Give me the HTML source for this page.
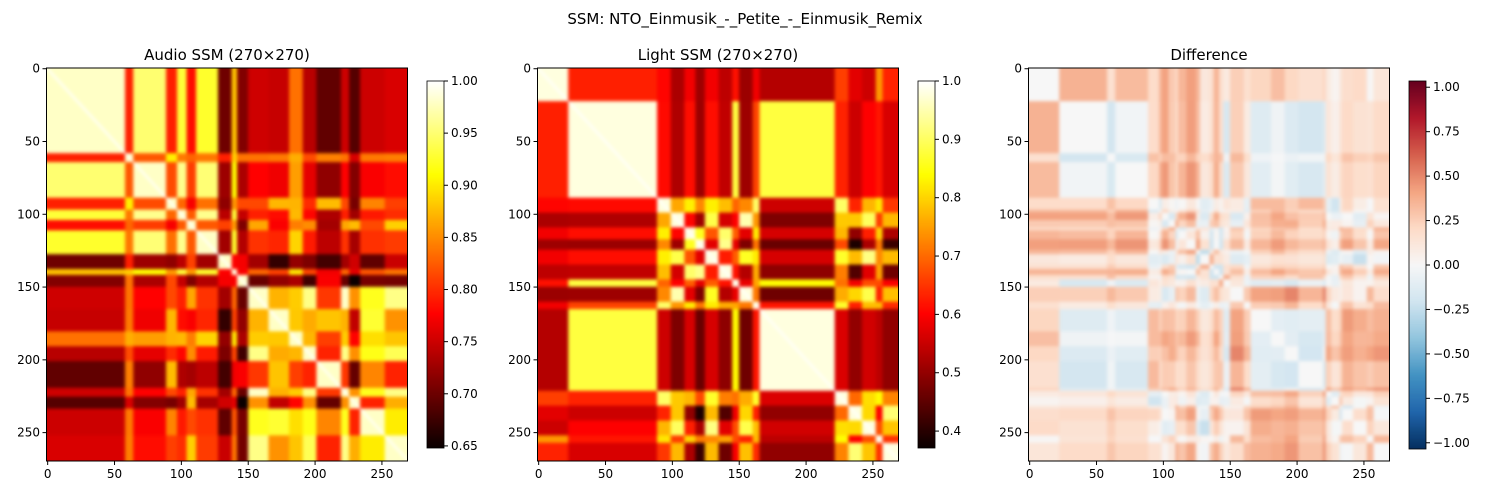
<!DOCTYPE html>
<html><head><meta charset="utf-8">
<style>
body{margin:0;background:#fff;width:1489px;height:495px;overflow:hidden;position:relative;font-family:"DejaVu Sans","Liberation Sans",sans-serif;}
canvas{position:absolute;filter:blur(1.6px);}
svg{position:absolute;left:0;top:0;}
</style></head><body>
<div style="position:absolute;left:47px;top:68px;width:361px;height:393px;overflow:hidden"><canvas id="c1" width="270" height="270" style="left:-4px;top:-4px;width:369px;height:401px"></canvas></div>
<div style="position:absolute;left:538px;top:68px;width:361px;height:393px;overflow:hidden"><canvas id="c2" width="270" height="270" style="left:-4px;top:-4px;width:369px;height:401px"></canvas></div>
<div style="position:absolute;left:1029px;top:68px;width:361px;height:393px;overflow:hidden"><canvas id="c3" width="270" height="270" style="left:-4px;top:-4px;width:369px;height:401px"></canvas></div>
<canvas id="cb1" width="1" height="256" style="left:427px;top:81px;width:17px;height:367px;filter:none"></canvas>
<canvas id="cb2" width="1" height="256" style="left:918px;top:81px;width:17px;height:367px;filter:none"></canvas>
<canvas id="cb3" width="1" height="256" style="left:1409px;top:81px;width:17px;height:368px;filter:none"></canvas>
<svg id="s" width="1489" height="495">
<text x="745" y="24" text-anchor="middle" font-size="15">SSM: NTO_Einmusik_-_Petite_-_Einmusik_Remix</text>
<text x="227" y="60" text-anchor="middle" font-size="15">Audio SSM (270×270)</text>
<text x="718" y="60" text-anchor="middle" font-size="15">Light SSM (270×270)</text>
<text x="1209" y="60" text-anchor="middle" font-size="15">Difference</text>
</svg>
<script>
// Audio segments: start frame and 3-D feature
const audioStarts=[0,60,66,90,98,105,112,128,138,142,150,165,180,190,200,218,224,232,250];
const audioFx=[0,0.18,0.03,0.15,0.05,0.17,0.05,0.23,0.1,0.2,0.2,0.18,0.12,0.2,0.24,0.2,0.24,0.19,0.2];
const audioFy=[0,0,0,0.05,0,0,0.02,-0.15,0,-0.1,0.1,0.14,0.08,0.12,0.1,0.1,0.05,0.13,0.08];
const audioFz=[0,-0.05,0,-0.1,0,0.1,0,0.05,0,-0.15,0.05,-0.05,0,0.06,-0.12,0.05,0.16,0,0.06];
// Light segments
const lightStarts=[0,25,90,100,110,118,125,135,145,150,160,165,220,230,240,250,255];
const lightFx=[0,0,0.33,0.36,0.3,0.36,0.3,0.35,0.1,0.36,0.3,0,0.28,0.2,0.3,0.22,0.18];
const lightFy=[0.35,0,0.17,0.17,0.15,0.18,0.15,0.17,0,0.17,0.1,-0.1,0.2,0.2,0.12,0.28,0.25];
const lightFz=[0,0,0,0.22,-0.15,-0.25,0.15,-0.2,0,0.25,0,0,0.05,0.32,0.2,-0.05,0.28];
const audioTicks=[1.00,0.95,0.90,0.85,0.80,0.75,0.70,0.65];
const lightTicks=[1.0,0.9,0.8,0.7,0.6,0.5,0.4];
const diffTicks=[1.00,0.75,0.50,0.25,0.00,-0.25,-0.50,-0.75,-1.00];
const axisTicks=[0,50,100,150,200,250];
const N=270;
function hot(t){t=Math.max(0,Math.min(1,t));
 return [Math.min(1,0.0416+t/0.365*0.9584),Math.max(0,Math.min(1,(t-0.365)/0.381)),Math.max(0,Math.min(1,(t-0.746)/0.254))].map(v=>v*255);}
const rdbu=[[5,48,97],[33,102,172],[67,147,195],[146,197,222],[209,229,240],[247,247,247],[253,219,199],[244,165,130],[214,96,77],[178,24,43],[103,0,31]];
function rb(t){t=Math.max(0,Math.min(1,t))*10;const i=Math.min(9,Math.floor(t)),f=t-i;
 return rdbu[i].map((v,k)=>v+(rdbu[i+1][k]-v)*f);}
function feat(st,fx,fy,fz){const X=[],Y=[],Z=[];let s=0;
 for(let i=0;i<N;i++){while(s+1<st.length&&i>=st[s+1])s++;X.push(fx[s]);Y.push(fy[s]);Z.push(fz[s]);}return [X,Y,Z];}
function sim(F,i,j){const d=Math.hypot(F[0][i]-F[0][j],F[1][i]-F[1][j],F[2][i]-F[2][j]);
 return 1-d-Math.min(0.02,Math.abs(i-j)*0.01);}
const FA=feat(audioStarts,audioFx,audioFy,audioFz),FL=feat(lightStarts,lightFx,lightFy,lightFz);
function draw(id,fn,cm,lo,hi){const c=document.getElementById(id),x=c.getContext('2d'),im=x.createImageData(N,N);
 for(let i=0;i<N;i++)for(let j=0;j<N;j++){const v=fn(i,j),col=cm((v-lo)/(hi-lo)),p=(i*N+j)*4;
  im.data[p]=col[0];im.data[p+1]=col[1];im.data[p+2]=col[2];im.data[p+3]=255;}
 x.putImageData(im,0,0);}
draw('c1',(i,j)=>sim(FA,i,j),hot,0.648,1);
draw('c2',(i,j)=>sim(FL,i,j),hot,0.371,1);
draw('c3',(i,j)=>sim(FA,i,j)-sim(FL,i,j),rb,-1,1);
function bar(id,cm){const c=document.getElementById(id),x=c.getContext('2d'),im=x.createImageData(1,256);
 for(let k=0;k<256;k++){const col=cm(1-k/255);im.data[k*4]=col[0];im.data[k*4+1]=col[1];im.data[k*4+2]=col[2];im.data[k*4+3]=255;}
 x.putImageData(im,0,0);}
bar('cb1',hot);bar('cb2',hot);bar('cb3',rb);
const s=document.getElementById('s'),NS='http://www.w3.org/2000/svg';
function el(tag,at,txt){const e=document.createElementNS(NS,tag);for(const k in at)e.setAttribute(k,at[k]);if(txt!==undefined)e.textContent=txt;s.appendChild(e);return e;}
[47,538,1029].forEach((L,pi)=>{
 const fr=el('rect',{x:L-0.5,y:68,width:361,height:393,fill:'none',stroke:'#000','stroke-width':1});
 
 
 axisTicks.forEach(t=>{
  const px=L+t*361/270+0.67, py=68+(t+0.5)*393/270;
  el('line',{x1:px,y1:461,x2:px,y2:465,stroke:'#000'});
  const xl=el('text',{x:px,y:478,'text-anchor':'middle','font-size':12},String(t));
  
  
  el('line',{x1:L-0.5,y1:py,x2:L-4.5,y2:py,stroke:'#000'});
  const yl=el('text',{x:L-7,y:py+4,'text-anchor':'end','font-size':12},String(t));
  
  
 });
});
function cbTicks(x0,top,bot,ticks,lo,hi,dec){
 const r=el('rect',{x:x0,y:top,width:17,height:bot-top,fill:'none',stroke:'#000','stroke-width':0.8});
 
 
 ticks.forEach(t=>{const py=bot-(t-lo)/(hi-lo)*(bot-top);
  el('line',{x1:x0+17,y1:py,x2:x0+21,y2:py,stroke:'#000'});
  const tl=el('text',{x:x0+24,y:py+4,'font-size':12},(t<0?'\u2212':'')+Math.abs(t).toFixed(dec));
  
  });}
cbTicks(427,81,448,audioTicks,0.648,1,2);
cbTicks(918,81,448,lightTicks,0.371,1,1);
cbTicks(1409,81,449,diffTicks,-1.035,1.035,2);
</script>
</body></html>
